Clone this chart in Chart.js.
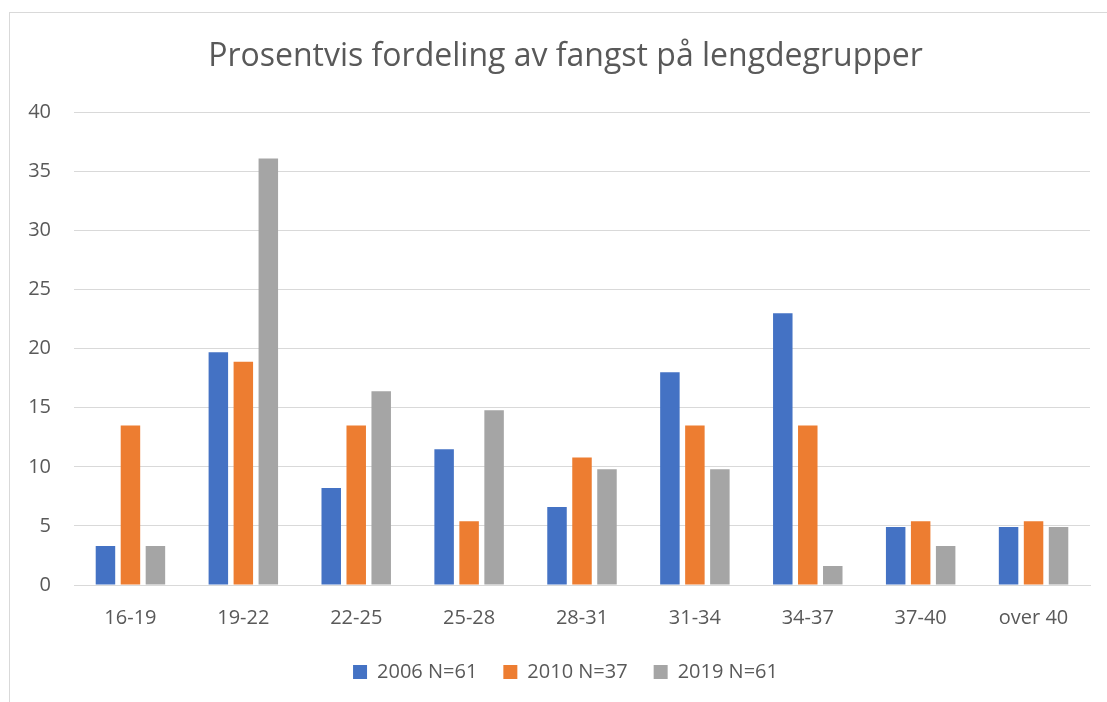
<!DOCTYPE html>
<html>
<head>
<meta charset="utf-8">
<script src="https://cdn.jsdelivr.net/npm/chart.js@4"></script>
<style>
  html, body { margin: 0; padding: 0; background: #ffffff; }
  #wrap { position: relative; width: 1107px; height: 702px; overflow: hidden; }
  #frame { position: absolute; left: 9px; top: 12px; width: 1200px; height: 800px;
           border-left: 1px solid #d9d9d9; border-top: 1px solid #d9d9d9; }
  canvas { position: absolute; left: 0; top: 0; }
</style>
</head>
<body>
<div id="wrap">
  <div id="frame"></div>
  <canvas id="c" width="1107" height="702"></canvas>
</div>
<script>
const titleText = "Prosentvis fordeling av fangst på lengdegrupper";
const categories = ["16-19", "19-22", "22-25", "25-28", "28-31", "31-34", "34-37", "37-40", "over 40"];
const seriesNames = ["2006 N=61", "2010 N=37", "2019 N=61"];
const values2006 = [3.3, 19.7, 8.2, 11.5, 6.6, 18.0, 23.0, 4.9, 4.9];
const values2010 = [13.5, 18.9, 13.5, 5.4, 10.8, 13.5, 13.5, 5.4, 5.4];
const values2019 = [3.3, 36.1, 16.4, 14.8, 9.8, 9.8, 1.6, 3.3, 4.9];
const yTicks = [0, 5, 10, 15, 20, 25, 30, 35, 40];
const colors = ["#4472C4", "#ED7D31", "#A5A5A5"];

const txt = "#595959";
const fam = "'Open Sans', 'Noto Sans', sans-serif";

new Chart(document.getElementById("c"), {
  type: "bar",
  data: {
    labels: categories,
    datasets: [values2006, values2010, values2019].map((v, i) => ({
      label: seriesNames[i],
      data: v,
      backgroundColor: colors[i],
      borderWidth: 0,
      categoryPercentage: 0.664,
      barPercentage: 0.78,
      yAxisID: "y"
    }))
  },
  options: {
    responsive: false,
    animation: false,
    events: [],
    layout: { padding: { left: 24, right: 0, top: 0, bottom: 10 } },
    plugins: {
      tooltip: { enabled: false },
      title: {
        display: true,
        text: titleText,
        color: txt,
        font: { family: fam, size: 32, weight: "normal" },
        padding: { top: 38, bottom: 36 }
      },
      legend: {
        display: true,
        position: "bottom",
        labels: {
          color: txt,
          font: { family: fam, size: 20 },
          boxWidth: 14,
          boxHeight: 14,
          padding: 26
        }
      }
    },
    scales: {
      x: {
        grid: { display: false, drawTicks: false },
        border: { display: true, color: "#d9d9d9", width: 1 },
        afterFit: (s) => { s.height = s.height - 15; },
        ticks: { color: txt, font: { family: fam, size: 20 }, padding: 21, maxRotation: 0 }
      },
      y: {
        position: "left",
        min: 0,
        max: 40,
        afterBuildTicks: (s) => { s.ticks = yTicks.map(v => ({ value: v })); },
        afterFit: (s) => { s.width = 50; },
        grid: { color: "#d9d9d9", lineWidth: 1, drawTicks: false },
        border: { display: false },
        ticks: { color: txt, font: { family: fam, size: 20 }, padding: 23 }
      },
      y2: {
        position: "right",
        display: true,
        afterFit: (s) => { s.width = 17; },
        grid: { display: false, drawTicks: false },
        border: { display: false },
        ticks: { display: false }
      }
    }
  }
});
</script>
</body>
</html>
